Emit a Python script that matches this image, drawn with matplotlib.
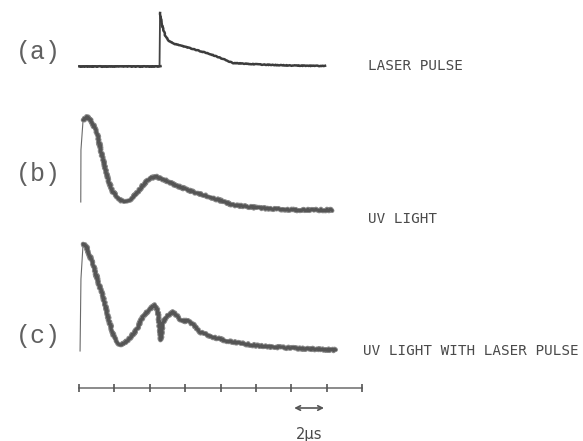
import numpy as np
import matplotlib
matplotlib.use("Agg")
import matplotlib.pyplot as plt

# oscilloscope traces: time [us], signal [arb., ~px]
t_a = [0.0, 4.55, 4.58, 4.69, 4.86, 5.08, 5.42, 6.44, 7.40, 8.14, 8.70, 10.2, 11.9, 13.9]
sig_a = [0, 0, 53, 41, 31, 25, 22, 17, 12, 7, 3, 1.5, 0.5, 0]

t_b = [0.10, 0.11, 0.23, 0.45, 0.68, 1.02, 1.36, 1.64, 1.92, 2.32, 2.60, 2.94, 3.28,
       3.67, 4.01, 4.41, 4.86, 5.42, 6.44, 7.40, 8.70, 10.2, 12.2, 14.3]
sig_b = [8, 60, 90, 93, 90, 77, 50, 30, 18, 10, 8, 11, 17,
         26, 32, 33, 30, 25, 18, 13, 5, 2, 0, 0]

t_c = [0.06, 0.11, 0.23, 0.40, 0.79, 1.07, 1.36, 1.64, 1.92, 2.10, 2.32, 2.60, 2.88, 3.28,
       3.62, 4.01, 4.29, 4.45, 4.62, 4.72, 4.92, 5.31, 5.59, 5.82, 6.16, 6.55,
       6.84, 7.57, 8.36, 9.38, 10.2, 11.9, 14.5]
sig_c = [0, 72, 107, 105, 87, 70, 54, 34, 17, 10, 6, 8, 13, 22,
         35, 42, 46, 40, 11, 27, 34, 39, 34, 30, 30, 25,
         19, 14, 10, 7, 5, 3, 1]

scale_ticks = [0, 2, 4, 6, 8, 10, 12, 14, 16]  # 2 us per division

labels = ["(a)", "(b)", "(c)"]
captions = ["LASER PULSE", "UV LIGHT", "UV LIGHT WITH LASER PULSE"]

W, H = 583, 441
ink = "#4a4a4a"
fig = plt.figure(figsize=(W / 100, H / 100), dpi=100)
fig.patch.set_facecolor("white")

# horizontal mapping: t=0 at x=79 px, 17.7 px per us
x0, px_per_us = 79, 17.7
xlim = (-x0 / px_per_us, (W - x0) / px_per_us)


def trace_axes(base_px, pad=130):
    # axes whose y=0 sits at pixel row base_px, 1 unit = 1 px
    ax = fig.add_axes([0, 1 - (base_px + pad) / H, 1, 2 * pad / H])
    ax.set_xlim(*xlim)
    ax.set_ylim(-pad, pad)
    ax.axis("off")
    return ax


def scope_trace(ax, t, s, rise=2):
    # thin fast rise, then the thick fuzzy trace from the peak on
    ax.plot(t[:rise + 1], s[:rise + 1], color="#6a6a6a", lw=0.8)
    for lw, col, sc in [(3.4, "#8a8a8a", 1.0), (2.2, "#555555", 0.7)]:
        ln, = ax.plot(t[rise:], s[rise:], color=col, lw=lw,
                      solid_joinstyle="round", solid_capstyle="round")
        ln.set_sketch_params(scale=sc, length=1.2, randomness=3)


ax_a = trace_axes(66)
ax_a.plot(t_a[:3], sig_a[:3], color="#444444", lw=1.3)
ln, = ax_a.plot(t_a[2:], sig_a[2:], color="#3c3c3c", lw=1.8, solid_joinstyle="round")
ln.set_sketch_params(scale=0.3, length=2, randomness=3)
ln, = ax_a.plot(t_a[:2], sig_a[:2], color="#3c3c3c", lw=1.8)
ln.set_sketch_params(scale=0.3, length=2, randomness=3)

ax_b = trace_axes(210)
scope_trace(ax_b, t_b, sig_b)

ax_c = trace_axes(351)
scope_trace(ax_c, t_c, sig_c)

# time scale bar
ax_s = trace_axes(388)
ax_s.plot([scale_ticks[0], scale_ticks[-1]], [0, 0], color="#777777", lw=1.2)
ax_s.vlines(scale_ticks, -4, 4, color="#555555", lw=1.2)
ax_s.annotate("", xy=(12, -20), xytext=(14, -20),
              arrowprops=dict(arrowstyle="<->", color="#555555", lw=1.2,
                              mutation_scale=8))
ax_s.text(13, -47, "2μs", ha="center", va="center", fontsize=10.5,
          color=ink, family="DejaVu Sans")

# panel letters and captions (pixel positions)
for lab, y in zip(labels, [52, 174, 336]):
    fig.text(38 / W, 1 - y / H, lab, ha="center", va="center", fontsize=18,
             color="#606060", family="Liberation Mono")

for cap, x, y in zip(captions, [368, 368, 363], [66, 219, 351]):
    fig.text(x / W, 1 - y / H, cap, ha="left", va="center", fontsize=10.3,
             color=ink, family="DejaVu Sans Mono")

fig.savefig("out.png", dpi=100, facecolor="white")
